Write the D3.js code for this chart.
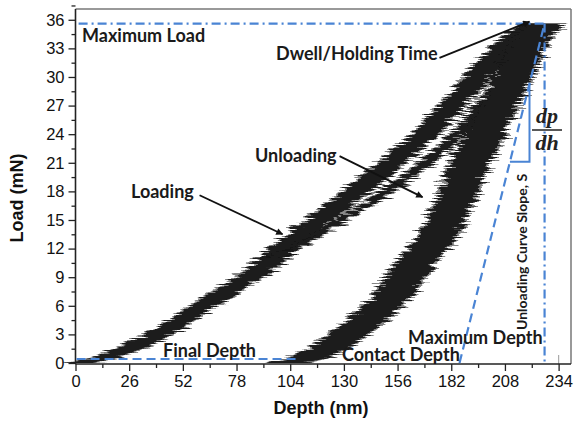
<!DOCTYPE html>
<html>
<head>
<meta charset="utf-8">
<script src="https://cdn.jsdelivr.net/npm/d3@7/dist/d3.min.js"></script>
<style>
  html, body { margin: 0; padding: 0; background: #fff; }
  svg { display: block; }
</style>
</head>
<body>
<svg id="chart" width="574" height="421"></svg>
<script>
// Load–depth nanoindentation records: [depth (nm), load (mN)]
const loadingRunA = [
  [2.9, 0.00], [11.6, 0.42], [27.6, 1.68], [44.1, 3.46], [60.1, 5.77],
  [76.1, 7.87], [92.5, 10.29], [100.3, 11.86], [108.5, 13.33], [116.8, 14.80],
  [124.5, 16.06], [141.0, 18.89], [157.0, 21.62], [173.0, 24.77], [189.4, 28.65],
  [202.0, 31.80], [211.7, 33.90], [222.4, 35.58]
];
const loadingRunB = [
  [96.4, 11.02], [110.0, 12.59], [127.5, 14.80], [146.0, 17.32], [161.5, 19.63],
  [177.0, 22.36], [191.0, 25.50], [202.5, 28.65], [211.5, 31.59], [219.5, 34.11],
  [224.8, 35.58]
];
const unloadingRun = [
  [227.2, 35.6], [219.9, 33.7], [212.7, 30.4], [206.9, 27.8], [200.6, 25.2],
  [194.8, 22.6], [188.9, 19.9], [184.1, 17.1], [179.3, 15.0], [173.9, 12.9],
  [163.3, 10.1], [151.2, 6.6], [132.7, 3.1], [117.2, 1.05], [108.5, 0.31],
  [101.3, 0.0]
];

// Characteristic values
const maxLoad = 35.6;        // mN
const maxDepth = 227.2;      // nm
const contactDepth = 186.0;  // nm
const finalDepthLoad = 0.42; // mN level of the final-depth marker
const finalDepthEnd = 108;   // nm
const slopeStepDepth = 219.9;
const slopeStepLoad = 21.1;

// Axis ticks
const xTicks = [0, 26, 52, 78, 104, 130, 156, 182, 208, 234];
const yTicks = [0, 3, 6, 9, 12, 15, 18, 21, 24, 27, 30, 33, 36];

const svg = d3.select("#chart");
const plotL = 75.5, plotR = 571, plotT = 9, plotB = 364;

const x = d3.scaleLinear().domain([0, 240]).range([plotL, plotR]);
const y = d3.scaleLinear().domain([0, 37.13]).range([plotB - 1, plotT]);

const blue = "#4a84d4";

// Rough-edged rendering for the noisy measurement bands
const defs = svg.append("defs");
const f = defs.append("filter").attr("id", "rough")
  .attr("x", "-20%").attr("y", "-20%").attr("width", "140%").attr("height", "140%");
f.append("feTurbulence").attr("type", "fractalNoise")
  .attr("baseFrequency", "0.05 0.7").attr("numOctaves", 2).attr("seed", 4).attr("result", "n");
f.append("feColorMatrix").attr("in", "n").attr("type", "matrix")
  .attr("values", "1 0 0 0 0  0 0 0 0 0.5  0 0 0 0 0  0 0 0 0 1").attr("result", "m");
f.append("feDisplacementMap").attr("in", "SourceGraphic").attr("in2", "m")
  .attr("scale", 26).attr("xChannelSelector", "R").attr("yChannelSelector", "G");

defs.append("marker").attr("id", "arrow")
  .attr("viewBox", "0 0 10 10").attr("refX", 9).attr("refY", 5)
  .attr("markerWidth", 9).attr("markerHeight", 7).attr("markerUnits", "userSpaceOnUse")
  .attr("orient", "auto")
  .append("path").attr("d", "M0,0 L10,5 L0,10 Z").attr("fill", "#111");

// Bands: spread horizontally (depth scatter) around each recorded curve
function band(data, hw) {
  return d3.area()
    .y(d => y(d[1]))
    .x0(d => x(d[0]) - hw)
    .x1(d => x(d[0]) + hw)
    .curve(d3.curveMonotoneY)(data.slice().sort((a, b) => a[1] - b[1]));
}

const bands = svg.append("g").attr("filter", "url(#rough)");
const runs = [
  { data: loadingRunA, hw: 13 },
  { data: loadingRunB, hw: 6 },
  { data: unloadingRun, hw: 19 }
];
runs.forEach(r => {
  bands.append("path").attr("d", band(r.data, r.hw + 3)).attr("fill", "#858585");
});
runs.forEach(r => {
  bands.append("path").attr("d", band(r.data, r.hw)).attr("fill", "#1a1a1a");
});

// Frame (top and right in grey)
svg.append("line").attr("x1", plotL).attr("x2", plotR).attr("y1", plotT).attr("y2", plotT)
  .attr("stroke", "#777").attr("stroke-width", 1.5);
svg.append("line").attr("x1", plotR).attr("x2", plotR).attr("y1", plotT).attr("y2", plotB)
  .attr("stroke", "#777").attr("stroke-width", 1.5);
svg.append("line").attr("x1", x(234)).attr("x2", x(234)).attr("y1", plotB).attr("y2", plotB - 9)
  .attr("stroke", "#aaa").attr("stroke-width", 1.2);

// Axes
const xAxis = d3.axisBottom(x).tickValues(xTicks).tickSize(7).tickSizeOuter(0).tickPadding(4);
const xMinor = d3.axisBottom(x).tickValues(xTicks.slice(0, -1).map(v => v + 13)).tickSize(4).tickFormat("").tickSizeOuter(0);
const yAxis = d3.axisLeft(y).tickValues(yTicks).tickSize(7).tickSizeOuter(0).tickPadding(4);
const yMinor = d3.axisLeft(y).tickValues(yTicks.map(v => v + 1.5)).tickSize(4).tickFormat("").tickSizeOuter(0);

function styleAxis(g) {
  g.select(".domain").remove();
  g.selectAll(".tick line").attr("stroke", "#222").attr("stroke-width", 1.3);
  g.selectAll(".tick text").attr("fill", "#111")
    .style("font-family", "'Liberation Sans', Arial, sans-serif").style("font-size", "16.5px");
}
svg.append("g").attr("transform", `translate(0,${plotB})`).call(xAxis).call(styleAxis);
svg.append("g").attr("transform", `translate(0,${plotB})`).call(xMinor).call(styleAxis);
svg.append("g").attr("transform", `translate(${plotL},0)`).call(yAxis).call(styleAxis);
svg.append("g").attr("transform", `translate(${plotL},0)`).call(yMinor).call(styleAxis);
svg.append("line").attr("x1", plotL).attr("x2", plotR).attr("y1", plotB).attr("y2", plotB)
  .attr("stroke", "#222").attr("stroke-width", 1.6);
svg.append("line").attr("x1", plotL).attr("x2", plotL).attr("y1", plotT).attr("y2", plotB)
  .attr("stroke", "#222").attr("stroke-width", 1.6);

// Axis titles
svg.append("text").attr("x", 321).attr("y", 414).attr("text-anchor", "middle")
  .style("font-family", "'Liberation Sans', Arial, sans-serif").style("font-size", "18px")
  .style("font-weight", "bold").attr("fill", "#111").text("Depth (nm)");
svg.append("text").attr("transform", "translate(23,198) rotate(-90)").attr("text-anchor", "middle")
  .style("font-family", "'Liberation Sans', Arial, sans-serif").style("font-size", "18px")
  .style("font-weight", "bold").attr("fill", "#111").text("Load (mN)");

// Reference lines
const dashDot = "9,4,2,4";
svg.append("line").attr("x1", x(1.5)).attr("x2", x(maxDepth)).attr("y1", y(maxLoad)).attr("y2", y(maxLoad))
  .attr("stroke", blue).attr("stroke-width", 2.2).attr("stroke-dasharray", dashDot);
svg.append("line").attr("x1", x(maxDepth)).attr("x2", x(maxDepth)).attr("y1", y(maxLoad)).attr("y2", y(0))
  .attr("stroke", blue).attr("stroke-width", 2.2).attr("stroke-dasharray", dashDot);
svg.append("line").attr("x1", x(contactDepth)).attr("x2", x(maxDepth)).attr("y1", y(0)).attr("y2", y(maxLoad))
  .attr("stroke", blue).attr("stroke-width", 2.2).attr("stroke-dasharray", "9,5");
svg.append("line").attr("x1", x(0.5)).attr("x2", x(finalDepthEnd)).attr("y1", y(finalDepthLoad)).attr("y2", y(finalDepthLoad))
  .attr("stroke", blue).attr("stroke-width", 2.2).attr("stroke-dasharray", "9,5");

// Slope step on the tangent
const tangentDepthAt = l => contactDepth + (maxDepth - contactDepth) * l / maxLoad;
const tangentLoadAt = d => maxLoad * (d - contactDepth) / (maxDepth - contactDepth);
svg.append("path")
  .attr("d", d3.line()([
    [x(tangentDepthAt(slopeStepLoad)), y(slopeStepLoad)],
    [x(slopeStepDepth), y(slopeStepLoad)],
    [x(slopeStepDepth), y(tangentLoadAt(slopeStepDepth))]
  ]))
  .attr("fill", "none").attr("stroke", blue).attr("stroke-width", 2);

// Annotations
const annFont = "Lato, 'Open Sans', sans-serif";
function note(txt, px, py, size) {
  svg.append("text").attr("x", px).attr("y", py)
    .style("font-family", annFont).style("font-size", size + "px").style("font-weight", "bold")
    .attr("fill", "#1a1a1a").text(txt);
}
note("Maximum Load", 82, 42, 18);
note("Dwell/Holding Time", 276, 60, 18);
note("Unloading", 255, 162, 18);
note("Loading", 131, 198, 18);
note("Final Depth", 163, 357, 18);
note("Maximum Depth", 408, 344, 18);
note("Contact Depth", 342, 361, 18);

svg.append("text").attr("transform", "translate(527,330) rotate(-90)")
  .style("font-family", annFont).style("font-size", "14px").style("font-weight", "bold")
  .attr("fill", "#1a1a1a").text("Unloading Curve Slope, S");

// dp/dh
const serif = "'Liberation Serif', 'DejaVu Serif', serif";
svg.append("text").attr("x", 547).attr("y", 123).attr("text-anchor", "middle")
  .style("font-family", serif).style("font-size", "22px").style("font-style", "italic").style("font-weight", "bold")
  .attr("fill", "#222").text("dp");
svg.append("line").attr("x1", 532).attr("x2", 562).attr("y1", 130).attr("y2", 130)
  .attr("stroke", "#222").attr("stroke-width", 1.5);
svg.append("text").attr("x", 547).attr("y", 150).attr("text-anchor", "middle")
  .style("font-family", serif).style("font-size", "22px").style("font-style", "italic").style("font-weight", "bold")
  .attr("fill", "#222").text("dh");

// Pointer arrows
const arrows = [
  [[176.3, 32.0], [219.9, 35.8]],
  [[127.9, 21.7], [168.1, 17.4]],
  [[60.1, 17.6], [100.3, 13.5]]
];
arrows.forEach(a => {
  svg.append("line")
    .attr("x1", x(a[0][0])).attr("y1", y(a[0][1]))
    .attr("x2", x(a[1][0])).attr("y2", y(a[1][1]))
    .attr("stroke", "#111").attr("stroke-width", 1.8).attr("marker-end", "url(#arrow)");
});
</script>
</body>
</html>
